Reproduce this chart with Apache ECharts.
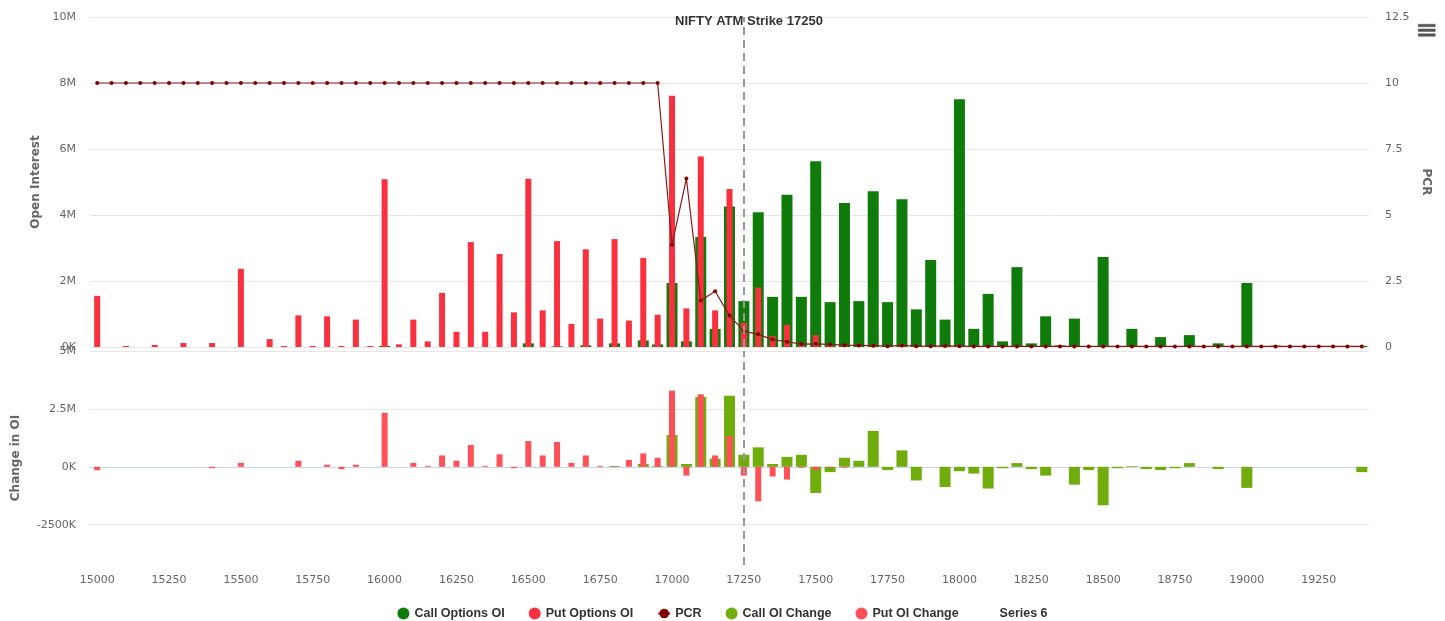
<!DOCTYPE html>
<html>
<head>
<meta charset="utf-8">
<title>NIFTY OI chart</title>
<script src="https://cdn.jsdelivr.net/npm/echarts@6/dist/echarts.min.js"></script>
<style>
  html, body { margin: 0; padding: 0; background: #fff; }
  #chart { width: 1445px; height: 621px; }
</style>
</head>
<body>
<div id="chart"></div>
<script>
// strike prices (x categories)
const strikes = [
  "15000","15050","15100","15150","15200","15250","15300","15350","15400","15450",
  "15500","15550","15600","15650","15700","15750","15800","15850","15900","15950",
  "16000","16050","16100","16150","16200","16250","16300","16350","16400","16450",
  "16500","16550","16600","16650","16700","16750","16800","16850","16900","16950",
  "17000","17050","17100","17150","17200","17250","17300","17350","17400","17450",
  "17500","17550","17600","17650","17700","17750","17800","17850","17900","17950",
  "18000","18050","18100","18150","18200","18250","18300","18350","18400","18450",
  "18500","18550","18600","18650","18700","18750","18800","18850","18900","18950",
  "19000","19050","19100","19150","19200","19250","19300","19350","19400"
];
const atmStrike = "17250";

// open interest, millions
const callOI = [
  0,0,0,0,0,0,0,0,0,0,
  0,0,0,0,0,0,0,0,0,0,
  0.03,0,0,0,0,0,0,0,0,0,
  0.11,0,0.02,0,0.05,0,0.11,0,0.20,0.08,
  1.94,0.17,3.33,0.55,4.26,1.39,4.08,1.52,4.61,1.52,
  5.63,1.36,4.36,1.39,4.72,1.36,4.48,1.14,2.64,0.83,
  7.51,0.55,1.61,0.17,2.42,0.11,0.93,0.05,0.86,0,
  2.73,0,0.55,0,0.30,0,0.36,0,0.11,0,
  1.94,0,0.04,0,0,0,0,0,0.03
];
const putOI = [
  1.55,0,0.03,0,0.06,0,0.12,0,0.12,0,
  2.37,0,0.24,0.03,0.96,0.03,0.93,0.03,0.83,0.03,
  5.08,0.08,0.83,0.17,1.64,0.46,3.18,0.46,2.82,1.05,
  5.10,1.11,3.21,0.70,2.96,0.86,3.27,0.80,2.70,0.98,
  7.61,1.17,5.77,1.11,4.79,0.73,1.80,0.33,0.67,0.05,
  0.36,0.03,0.05,0.02,0.02,0,0.03,0,0,0,
  0.03,0,0,0,0,0,0,0,0,0,
  0,0,0,0,0,0,0,0,0,0,
  0,0,0,0,0,0,0,0,0
];
const pcr = [
  10,10,10,10,10,10,10,10,10,10,
  10,10,10,10,10,10,10,10,10,10,
  10,10,10,10,10,10,10,10,10,10,
  10,10,10,10,10,10,10,10,10,10,
  3.87,6.38,1.76,2.11,1.19,0.60,0.48,0.28,0.20,0.11,
  0.12,0.10,0.07,0.06,0.05,0.03,0.06,0.03,0.03,0.04,
  0.03,0.02,0.02,0.02,0.02,0.02,0.02,0.02,0.02,0.02,
  0.02,0.02,0.02,0.02,0.02,0.02,0.02,0.02,0.02,0.02,
  0.02,0.02,0.02,0.02,0.02,0.02,0.02,0.02,0.02
];

// change in open interest, millions
const callChange = [
  0,0,0,0,0,0,0,0,0,0,
  0,0,0,0,0,0,0,0,0,0,
  0,0,0,0,0,0,0,0,0,0,
  0,0,0,0,0,0,0.03,0,0.12,0.03,
  1.37,0.12,3.02,0.35,3.07,0.52,0.84,0.12,0.43,0.52,
  -1.13,-0.23,0.39,0.26,1.55,-0.14,0.71,-0.59,0,-0.87,
  -0.19,-0.29,-0.94,-0.06,0.16,-0.10,-0.38,0,-0.77,-0.14,
  -1.66,-0.06,0.03,-0.10,-0.14,-0.06,0.16,0,-0.10,0,
  -0.91,0,0,0,0,0,0,0,-0.23
];
const putChange = [
  -0.145,0,0,0,0,0,0,0,-0.06,0,
  0.17,0,0,0,0.26,0,0.09,-0.10,0.09,0,
  2.33,0,0.17,0.04,0.49,0.26,0.94,0.04,0.54,-0.06,
  1.11,0.49,1.07,0.17,0.49,0.04,0.03,0.30,0.58,0.39,
  3.29,-0.38,3.13,0.49,1.32,-0.38,-1.49,-0.42,-0.55,-0.04,
  -0.14,-0.04,-0.04,0,0,0,0,0,0,0,
  0,0,0,0,0,0,0,0,0,0,
  0,0,0,0,0,0,0,0,0,0,
  0,0,0,0,0,0,0,0,0
];
const changeTicks = [-2.5, 0, 2.5, 5];

function fmtOI(v) {
  if (v === 0) return "0K";
  if (v < 0) return Math.round(v * 1000) + "K";
  return v + "M";
}

const labelFont = { color: "#666", fontSize: 11, fontFamily: "DejaVu Sans" };
const nameFont = { color: "#666", fontSize: 12, fontWeight: "bold", fontFamily: "DejaVu Sans" };
const atmLine = {
  silent: true,
  symbol: ["none", "none"],
  label: { show: false },
  lineStyle: { color: "#999", type: [8, 5], width: 2 },
  data: [{ xAxis: atmStrike }]
};

const myChart = echarts.init(document.getElementById("chart"));
const option = {
  animation: false,
  textStyle: { fontFamily: "DejaVu Sans" },
  title: {
    text: "NIFTY ATM Strike 17250",
    left: 675,
    top: 15,
    padding: 0,
    textStyle: { color: "#333", fontSize: 13, fontWeight: "bold", fontFamily: "Liberation Sans" }
  },
  toolbox: {
    left: 1403,
    top: 9,
    itemSize: 17,
    feature: {
      myMenu: {
        title: "Menu",
        icon: "path://M0,0H17V2.5H0Z M0,4.75H17V7.25H0Z M0,9.5H17V12H0Z",
        onclick: function () {}
      }
    },
    iconStyle: { color: "#555", borderColor: "#555", borderWidth: 0.5 }
  },
  tooltip: { trigger: "axis" },
  legend: {
    left: "center",
    top: 602,
    itemGap: 24,
    itemWidth: 12,
    itemHeight: 12,
    textStyle: { color: "#333", fontSize: 12.5, fontWeight: "bold", fontFamily: "Liberation Sans" },
    data: [
      { name: "Call Options OI", icon: "circle" },
      { name: "Put Options OI", icon: "circle" },
      { name: "PCR" },
      { name: "Call OI Change", icon: "circle" },
      { name: "Put OI Change", icon: "circle" },
      { name: "Series 6", icon: "none" }
    ]
  },
  grid: [
    { left: 90, right: 76, top: 17, height: 330 },
    { left: 90, right: 76, top: 351, height: 214 }
  ],
  xAxis: [
    { type: "category", gridIndex: 0, data: strikes, show: false },
    { type: "category", gridIndex: 0, data: strikes, show: false },
    {
      type: "category", gridIndex: 1, data: strikes,
      axisLine: { lineStyle: { color: "#ccd6eb" } },
      axisTick: { show: false },
      axisLabel: Object.assign({ interval: 4, margin: 10 }, labelFont)
    },
    { type: "category", gridIndex: 1, data: strikes, show: false }
  ],
  yAxis: [
    {
      type: "value", gridIndex: 0, min: 0, max: 10, interval: 2,
      name: "Open Interest", nameLocation: "middle", nameGap: 48, nameTextStyle: nameFont,
      axisLabel: Object.assign({ formatter: fmtOI, margin: 14 }, labelFont),
      splitLine: { lineStyle: { color: "#e6e6e6" } }
    },
    {
      type: "value", gridIndex: 0, position: "right", min: 0, max: 12.5, interval: 2.5,
      name: "PCR", nameLocation: "middle", nameGap: 50, nameRotate: -90, nameTextStyle: nameFont,
      axisLabel: Object.assign({ margin: 16 }, labelFont),
      splitLine: { show: false }
    },
    {
      type: "value", gridIndex: 1, min: -4.24, max: 5,
      name: "Change in OI", nameLocation: "middle", nameGap: 68, nameTextStyle: nameFont,
      axisTick: { show: false, customValues: changeTicks },
      axisLabel: Object.assign({ formatter: fmtOI, margin: 14, customValues: changeTicks }, labelFont),
      splitLine: { lineStyle: { color: "#e6e6e6" } }
    }
  ],
  series: [
    {
      name: "Call Options OI", type: "bar", xAxisIndex: 0, yAxisIndex: 0,
      barWidth: 11, data: callOI,
      itemStyle: { color: "#0f7b0b" },
      markLine: atmLine
    },
    {
      name: "Put Options OI", type: "bar", xAxisIndex: 1, yAxisIndex: 0,
      barWidth: 6, data: putOI,
      itemStyle: { color: "#f9303e" }
    },
    {
      name: "PCR", type: "line", xAxisIndex: 0, yAxisIndex: 1, data: pcr,
      symbol: "circle", symbolSize: 4,
      itemStyle: { color: "#800000" },
      lineStyle: { color: "#8b1a1a", width: 1.2 }
    },
    {
      name: "Call OI Change", type: "bar", xAxisIndex: 2, yAxisIndex: 2,
      barWidth: 11, data: callChange,
      itemStyle: { color: "#70ac0b" },
      markLine: atmLine
    },
    {
      name: "Put OI Change", type: "bar", xAxisIndex: 3, yAxisIndex: 2,
      barWidth: 6, data: putChange,
      itemStyle: { color: "#ff5058" }
    },
    {
      name: "Series 6", type: "line", xAxisIndex: 0, yAxisIndex: 0, data: [],
      itemStyle: { color: "rgba(0,0,0,0)" }
    }
  ]
};
myChart.setOption(option);
</script>
</body>
</html>
